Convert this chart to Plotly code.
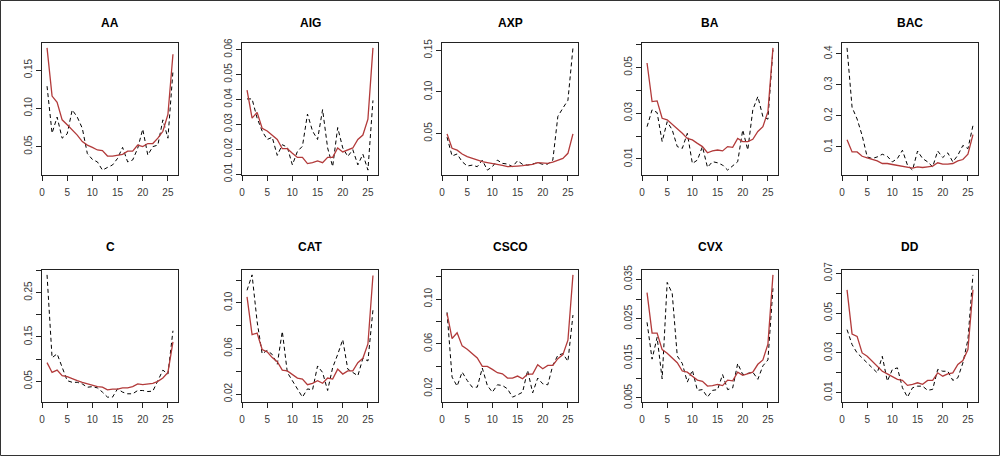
import plotly.graph_objects as go

x_vals = list(range(1, 27))
names = ["AA", "AIG", "AXP", "BA", "BAC", "C", "CAT", "CSCO", "CVX", "DD"]

red_AA = [0.179, 0.116, 0.108, 0.085, 0.0785, 0.072, 0.065, 0.0566, 0.052, 0.049, 0.0456, 0.0447, 0.0377,
          0.0377, 0.039, 0.040, 0.044, 0.044, 0.052, 0.050, 0.054, 0.054, 0.061, 0.070, 0.092, 0.1706]
blk_AA = [0.129, 0.0675, 0.0886, 0.061, 0.0667, 0.098, 0.0886, 0.074, 0.041, 0.0333, 0.030, 0.0193, 0.0228,
          0.026, 0.0346, 0.049, 0.030, 0.0325, 0.0478, 0.0728, 0.039, 0.050, 0.052, 0.085, 0.061, 0.1487]

red_AIG = [0.0437, 0.0325, 0.0348, 0.0284, 0.0273, 0.0257, 0.0239, 0.0202, 0.0202, 0.0184, 0.0167, 0.0167, 0.0142,
           0.0146, 0.0153, 0.0146, 0.0167, 0.0167, 0.0205, 0.0189, 0.0198, 0.0205, 0.0239, 0.0257, 0.0321, 0.0607]
blk_AIG = [0.0402, 0.0402, 0.0325, 0.0273, 0.0239, 0.0248, 0.0175, 0.0218, 0.0208, 0.0137, 0.0191, 0.0212, 0.0341,
           0.0273, 0.0239, 0.0359, 0.0205, 0.0130, 0.0287, 0.0205, 0.0171, 0.0198, 0.0137, 0.018, 0.0116, 0.0396]

red_AXP = [0.0496, 0.0323, 0.030, 0.0254, 0.0222, 0.020, 0.018, 0.0161, 0.0149, 0.0141, 0.0125, 0.0117, 0.0101,
           0.0109, 0.0109, 0.0113, 0.012, 0.0129, 0.0149, 0.0141, 0.0141, 0.0157, 0.018, 0.020, 0.0262, 0.0496]
blk_AXP = [0.0456, 0.023, 0.0254, 0.0161, 0.0109, 0.012, 0.0101, 0.018, 0.006, 0.0101, 0.018, 0.0141, 0.0133,
           0.0101, 0.0173, 0.0129, 0.012, 0.0133, 0.0149, 0.0129, 0.0133, 0.018, 0.0706, 0.0806, 0.090, 0.153]

red_BA = [0.052, 0.0351, 0.0354, 0.0278, 0.0271, 0.0252, 0.0231, 0.0212, 0.019, 0.0183, 0.0168, 0.0154, 0.0127,
          0.0135, 0.0139, 0.0135, 0.0154, 0.0151, 0.019, 0.0176, 0.0176, 0.0186, 0.022, 0.0241, 0.0307, 0.0586]
blk_BA = [0.0241, 0.0315, 0.0303, 0.0176, 0.0263, 0.0227, 0.0154, 0.0146, 0.0212, 0.008, 0.0095, 0.0154, 0.0063,
          0.0088, 0.0083, 0.0073, 0.0051, 0.0069, 0.0088, 0.0227, 0.0139, 0.0315, 0.0373, 0.0285, 0.0274, 0.0578]

red_BAC = [0.1234, 0.084, 0.084, 0.070, 0.065, 0.0596, 0.0553, 0.0468, 0.0468, 0.0436, 0.0404, 0.0383, 0.0362,
           0.032, 0.0362, 0.034, 0.0362, 0.0383, 0.049, 0.0447, 0.0447, 0.0468, 0.0553, 0.0596, 0.0766, 0.140]
blk_BAC = [0.419, 0.2277, 0.190, 0.137, 0.068, 0.0628, 0.068, 0.0766, 0.070, 0.052, 0.0628, 0.0894, 0.0415,
           0.0255, 0.087, 0.0628, 0.052, 0.036, 0.087, 0.066, 0.081, 0.052, 0.0734, 0.105, 0.0947, 0.169]

red_C = [0.0922, 0.070, 0.0752, 0.0626, 0.0604, 0.0552, 0.0515, 0.0478, 0.0441, 0.0419, 0.0381, 0.0367, 0.0307,
         0.0322, 0.0322, 0.0352, 0.0352, 0.0381, 0.0441, 0.0426, 0.0441, 0.0456, 0.050, 0.0574, 0.070, 0.139]
blk_C = [0.29, 0.1033, 0.112, 0.0811, 0.0515, 0.0478, 0.0478, 0.0441, 0.0367, 0.038, 0.0352, 0.0256, 0.0144,
         0.0144, 0.033, 0.0256, 0.0219, 0.0219, 0.0293, 0.0293, 0.027, 0.0278, 0.0515, 0.0752, 0.0663, 0.164]

red_CAT = [0.1052, 0.0721, 0.0735, 0.0591, 0.0571, 0.052, 0.0485, 0.041, 0.0404, 0.037, 0.0341, 0.0332, 0.0283,
           0.0295, 0.0318, 0.0295, 0.0341, 0.0332, 0.0419, 0.0376, 0.0404, 0.0404, 0.0476, 0.0514, 0.064, 0.1239]
blk_CAT = [0.111, 0.1245, 0.0836, 0.0554, 0.0583, 0.0548, 0.0462, 0.075, 0.039, 0.0318, 0.0246, 0.0174, 0.0246,
           0.0237, 0.0447, 0.039, 0.0232, 0.0433, 0.0548, 0.0678, 0.0419, 0.039, 0.0361, 0.0514, 0.0491, 0.0937]

red_CSCO = [0.0873, 0.0648, 0.0699, 0.0582, 0.0552, 0.0513, 0.0474, 0.0399, 0.0399, 0.0372, 0.0342, 0.0333, 0.0294,
            0.0294, 0.0312, 0.0288, 0.033, 0.033, 0.0414, 0.0378, 0.0408, 0.0408, 0.0468, 0.0504, 0.0633, 0.1217]
blk_CSCO = [0.0882, 0.0303, 0.0222, 0.0348, 0.0273, 0.0213, 0.0213, 0.0384, 0.0228, 0.0168, 0.0234, 0.0228, 0.0198,
            0.0124, 0.0144, 0.0168, 0.0363, 0.0162, 0.0294, 0.0243, 0.0234, 0.0408, 0.0498, 0.0513, 0.0444, 0.0858]

red_CVX = [0.0316, 0.0214, 0.0214, 0.0172, 0.0163, 0.0152, 0.0139, 0.0118, 0.0115, 0.0105, 0.0095, 0.0092, 0.008,
           0.0081, 0.0084, 0.0081, 0.0095, 0.0093, 0.0115, 0.0107, 0.0112, 0.0115, 0.0135, 0.0146, 0.0186, 0.0361]
blk_CVX = [0.0241, 0.0148, 0.0203, 0.0098, 0.0342, 0.0314, 0.0156, 0.0137, 0.009, 0.012, 0.0069, 0.0071, 0.0052,
           0.0069, 0.0071, 0.0109, 0.0071, 0.0075, 0.0137, 0.0109, 0.0112, 0.0115, 0.0097, 0.0131, 0.0146, 0.0327]

red_DD = [0.0617, 0.0395, 0.0383, 0.030, 0.0283, 0.0258, 0.0233, 0.0208, 0.0195, 0.0183, 0.0167, 0.0162, 0.0137,
          0.0142, 0.015, 0.0142, 0.0162, 0.0162, 0.020, 0.0183, 0.0195, 0.020, 0.0242, 0.0262, 0.0317, 0.0617]
blk_DD = [0.0417, 0.0342, 0.030, 0.0275, 0.025, 0.0225, 0.020, 0.0283, 0.0158, 0.0217, 0.0225, 0.0125, 0.0078,
          0.0125, 0.0133, 0.0133, 0.0112, 0.0117, 0.0217, 0.0208, 0.0208, 0.0162, 0.0175, 0.025, 0.0367, 0.0692]

x_ticks = [0, 5, 10, 15, 20, 25]

y_tickvals = {
    "AA": [0.05, 0.10, 0.15],
    "AIG": [0.01, 0.02, 0.03, 0.04, 0.05, 0.06],
    "AXP": [0.05, 0.10, 0.15],
    "BA": [0.01, 0.02, 0.03, 0.04, 0.05, 0.06],
    "BAC": [0.1, 0.2, 0.3, 0.4],
    "C": [0.05, 0.10, 0.15, 0.20, 0.25, 0.30],
    "CAT": [0.02, 0.04, 0.06, 0.08, 0.10, 0.12],
    "CSCO": [0.02, 0.04, 0.06, 0.08, 0.10, 0.12],
    "CVX": [0.005, 0.010, 0.015, 0.020, 0.025, 0.030, 0.035],
    "DD": [0.01, 0.02, 0.03, 0.04, 0.05, 0.06, 0.07],
}
y_ticktext = {
    "AA": ["0.05", "0.10", "0.15"],
    "AIG": ["0.01", "0.02", "0.03", "0.04", "0.05", "0.06"],
    "AXP": ["0.05", "0.10", "0.15"],
    "BA": ["0.01", "", "0.03", "", "0.05", ""],
    "BAC": ["0.1", "0.2", "0.3", "0.4"],
    "C": ["0.05", "", "0.15", "", "0.25", ""],
    "CAT": ["0.02", "", "0.06", "", "0.10", ""],
    "CSCO": ["0.02", "", "0.06", "", "0.10", ""],
    "CVX": ["0.005", "", "0.015", "", "0.025", "", "0.035"],
    "DD": ["0.01", "", "0.03", "", "0.05", "", "0.07"],
}

reds = [red_AA, red_AIG, red_AXP, red_BA, red_BAC, red_C, red_CAT, red_CSCO, red_CVX, red_DD]
blks = [blk_AA, blk_AIG, blk_AXP, blk_BA, blk_BAC, blk_C, blk_CAT, blk_CSCO, blk_CVX, blk_DD]

W, H = 1000, 456
RED = "#B23A3A"
TICKFONT = dict(family="Liberation Sans, Arial, sans-serif", size=10, color="#3a3a3a")

fig = go.Figure()
layout = dict(
    template="none",
    width=W, height=H, margin=dict(l=0, r=0, t=0, b=0, pad=0), autosize=False,
    paper_bgcolor="white", plot_bgcolor="white", showlegend=False,
)
annotations = []
rows_px = [(43, 175), (270, 402)]
title_y = [23, 247]
for i, name in enumerate(names):
    r, c = divmod(i, 5)
    k = i + 1
    xa = "x" if k == 1 else f"x{k}"
    ya = "y" if k == 1 else f"y{k}"
    x0p, x1p = 200 * c + 42, 200 * c + 178
    top, bot = rows_px[r]
    allv = reds[i] + blks[i]
    lo, hi = min(allv), max(allv)
    ext = 0.04 * (hi - lo)
    fig.add_trace(go.Scatter(x=x_vals, y=blks[i], mode="lines", xaxis=xa, yaxis=ya,
                             line=dict(color="black", width=1, dash="4px,3px")))
    fig.add_trace(go.Scatter(x=x_vals, y=reds[i], mode="lines", xaxis=xa, yaxis=ya,
                             line=dict(color=RED, width=1.3)))
    axcommon = dict(showline=True, mirror=True, linecolor="#222", linewidth=1, automargin=False,
                    showgrid=False, zeroline=False, ticks="outside", ticklen=5,
                    tickcolor="#222", tickfont=TICKFONT)
    layout["xaxis" if k == 1 else f"xaxis{k}"] = dict(
        domain=[x0p / W, x1p / W], range=[0, 27], anchor=ya, ticklabelstandoff=3,
        tickvals=x_ticks, ticktext=[str(t) for t in x_ticks], **axcommon)
    layout["yaxis" if k == 1 else f"yaxis{k}"] = dict(
        domain=[1 - bot / H, 1 - top / H], range=[lo - ext, hi + ext], anchor=xa,
        tickvals=y_tickvals[name], ticktext=y_ticktext[name], tickangle=-90, **axcommon)
    annotations.append(dict(text=f"<b>{name}</b>", x=(x0p + x1p) / 2 / W, y=1 - title_y[r] / H,
                            xref="paper", yref="paper", showarrow=False, xanchor="center", yanchor="middle",
                            font=dict(family="Liberation Sans, Arial, sans-serif", size=12, color="black")))

layout["annotations"] = annotations
layout["shapes"] = [dict(type="rect", xref="paper", yref="paper", x0=0.5 / W, x1=1 - 0.5 / W,
                         y0=0.5 / H, y1=1 - 0.5 / H, line=dict(color="#333", width=1))]
fig.update_layout(**layout)
fig.write_html("out.html", config={"displayModeBar": False},
               post_script="document.body.style.margin='0';document.body.style.padding='0';"
                           "document.documentElement.style.overflow='hidden';")
